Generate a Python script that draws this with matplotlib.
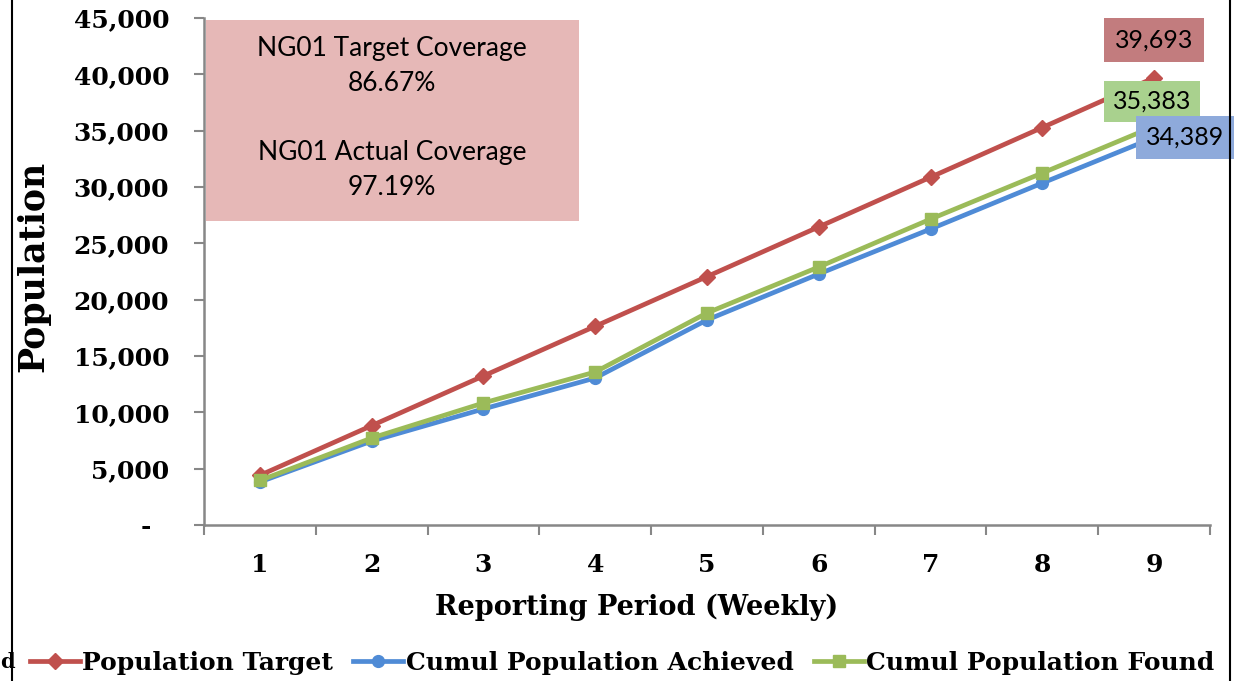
import matplotlib
matplotlib.use("Agg")
import matplotlib.pyplot as plt
from matplotlib.patches import Rectangle
from matplotlib.lines import Line2D
from matplotlib.ticker import FuncFormatter, FixedLocator

# data
weeks = [1, 2, 3, 4, 5, 6, 7, 8, 9]
pop_target = [4410, 8820, 13230, 17640, 22050, 26460, 30870, 35280, 39693]
pop_achieved = [3820, 7450, 10300, 13050, 18200, 22280, 26270, 30350, 34389]
pop_found = [3950, 7720, 10830, 13580, 18820, 22900, 27150, 31240, 35383]
coverage_text = "NG01 Target Coverage\n86.67%\n\nNG01 Actual Coverage\n97.19%"

c_red = "#C0504D"
c_blue = "#4F8BD6"
c_green = "#9BBB59"
axis_gray = "#878787"
serif = "DejaVu Serif"
sans = "Lato"

W, H = 1239, 681
fig = plt.figure(figsize=(W / 100, H / 100), dpi=100)
fig.patch.set_facecolor("white")


def fx(px):
    return px / W


def fy(py):
    return 1 - py / H


ax = fig.add_axes([fx(204), fy(525), fx(1210) - fx(204), fy(18) - fy(525)])

ax.plot(weeks, pop_target, color=c_red, lw=3.4, marker="D", ms=8.5, zorder=3)
ax.plot(weeks, pop_achieved, color=c_blue, lw=3.4, marker="o", ms=8.5, zorder=4)
ax.plot(weeks, pop_found, color=c_green, lw=3.4, marker="s", ms=9, zorder=5)

ax.set_xlim(0.5, 9.5)
ax.set_ylim(0, 45000)
ax.set_yticks(range(0, 45001, 5000))
ax.yaxis.set_major_formatter(FuncFormatter(lambda v, p: "-  " if v == 0 else f"{int(v):,}"))
ax.set_xticks(weeks)
ax.xaxis.set_minor_locator(FixedLocator([i + 0.5 for i in range(0, 10)]))
ax.tick_params(axis="x", which="major", length=0, pad=20, labelsize=18)
ax.tick_params(axis="x", which="minor", length=7, width=1.5, color=axis_gray, direction="out")
ax.tick_params(axis="y", length=7, width=1.5, color=axis_gray, pad=18, labelsize=18)
for lab in ax.get_xticklabels() + ax.get_yticklabels():
    lab.set_fontfamily(serif)
    lab.set_fontweight("bold")

for s in ["top", "right"]:
    ax.spines[s].set_visible(False)
for s in ["left", "bottom"]:
    ax.spines[s].set_color(axis_gray)
    ax.spines[s].set_linewidth(1.8)

ax.set_ylabel("Population", fontsize=25, fontweight="bold", family=serif)
ax.yaxis.set_label_coords((50 - 204) / 1006, 0.51)
ax.set_xlabel("Reporting Period (Weekly)", fontsize=19.5, fontweight="bold", family=serif)
ax.xaxis.set_label_coords((637 - 204) / 1006, -0.136)

# coverage box
fig.patches.append(Rectangle((fx(206), fy(221)), fx(579) - fx(206), fy(20) - fy(221),
                             transform=fig.transFigure, facecolor="#E6B8B7", edgecolor="none", zorder=1))
fig.text(fx(392), fy(118), coverage_text, ha="center", va="center", fontsize=19,
         family=sans, linespacing=1.48, zorder=2)

# end-point data labels
ax.annotate(f"{pop_target[-1]:,}", (weeks[-1], pop_target[-1]), xytext=(0, 27),
            textcoords="offset points", ha="center", va="center", fontsize=18, family=sans,
            bbox=dict(boxstyle="square,pad=0.42", fc="#C27C7E", ec="none"), zorder=6)
ax.annotate(f"{pop_found[-1]:,}", (weeks[-1], pop_found[-1]), xytext=(-1.5, 18),
            textcoords="offset points", ha="center", va="center", fontsize=18, family=sans,
            bbox=dict(boxstyle="square,pad=0.36", fc="#A9D18E", ec="none"), zorder=6,
            annotation_clip=False)
ax.annotate(f"{pop_achieved[-1]:,}", (weeks[-1], pop_achieved[-1]), xytext=(22, 0),
            textcoords="offset points", ha="center", va="center", fontsize=18, family=sans,
            bbox=dict(boxstyle="square,pad=0.4", fc="#8EAADB", ec="none"), zorder=6,
            annotation_clip=False)

# legend
handles = [
    Line2D([], [], color=c_red, lw=3.4, marker="D", ms=8.5),
    Line2D([], [], color=c_blue, lw=3.4, marker="o", ms=8.5),
    Line2D([], [], color=c_green, lw=3.4, marker="s", ms=9),
]
labels = ["Population Target", "Cumul Population Achieved", "Cumul Population Found"]
fig.legend(handles, labels, loc="center", bbox_to_anchor=(fx(622), fy(663)), ncol=3,
           frameon=False, handlelength=2.0, handletextpad=0.1, columnspacing=0.8,
           prop={"family": serif, "weight": "bold", "size": 18})

# leftover of the legend title and outer border lines
fig.text(fx(0), fy(662), "d", ha="left", va="center", fontsize=15,
         fontweight="bold", family=serif)
fig.add_artist(Line2D([fx(12), fx(12)], [0, 1], transform=fig.transFigure, color="black", lw=1.5))
fig.add_artist(Line2D([fx(1230), fx(1230)], [0, 1], transform=fig.transFigure, color="black", lw=1.5))

plt.savefig("out.png", dpi=100)
plt.close()
